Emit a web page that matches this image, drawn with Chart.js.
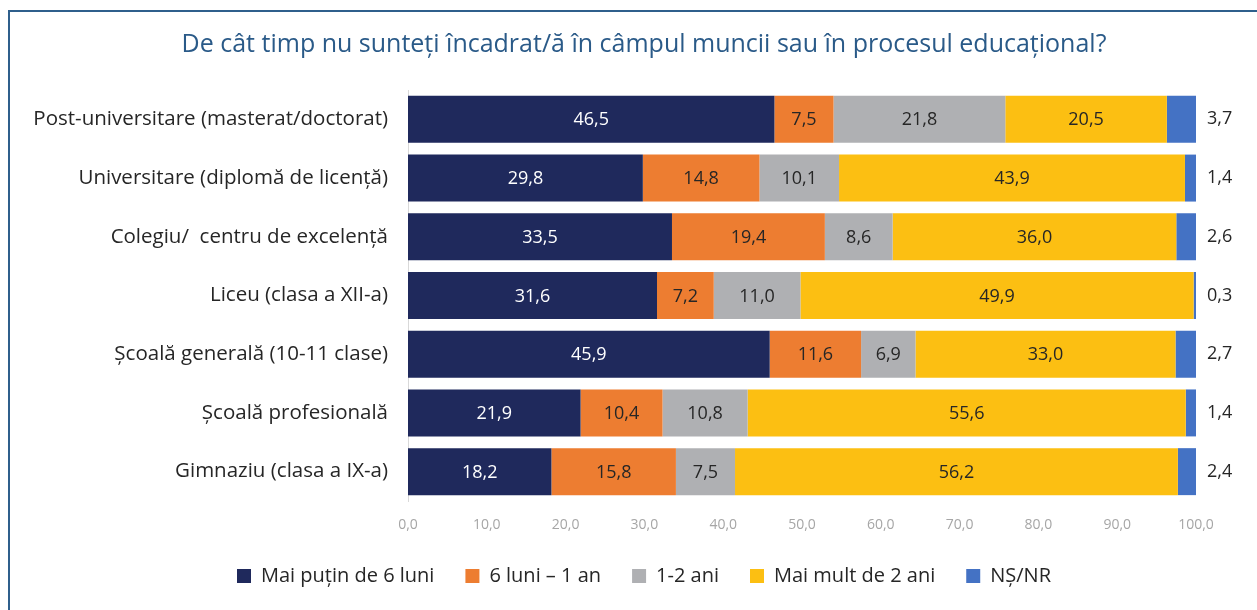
<!DOCTYPE html>
<html>
<head>
<meta charset="utf-8">
<script src="https://cdn.jsdelivr.net/npm/chart.js@4"></script>
<style>
  html, body { margin: 0; padding: 0; background: #fff; overflow: hidden; }
  #frame { position: absolute; left: 8px; top: 10px; width: 1400px; height: 800px;
           border: 2px solid #2f5f8c; box-sizing: border-box; }
  #wrap { position: absolute; left: 0; top: 0; width: 1257px; height: 610px; }
</style>
</head>
<body>
<div id="frame"></div>
<div id="wrap"><canvas id="chart"></canvas></div>
<script>
const categories = [
  'Post-universitare (masterat/doctorat)',
  'Universitare (diplomă de licență)',
  'Colegiu/  centru de excelență',
  'Liceu (clasa a XII-a)',
  'Școală generală (10-11 clase)',
  'Școală profesională',
  'Gimnaziu (clasa a IX-a)'
]
const under6Months = [46.5, 29.8, 33.5, 31.6, 45.9, 21.9, 18.2]
const sixMonthsToYear = [7.5, 14.8, 19.4, 7.2, 11.6, 10.4, 15.8]
const oneToTwoYears = [21.8, 10.1, 8.6, 11.0, 6.9, 10.8, 7.5]
const overTwoYears = [20.5, 43.9, 36.0, 49.9, 33.0, 55.6, 56.2]
const dontKnow = [3.7, 1.4, 2.6, 0.3, 2.7, 1.4, 2.4]
const xTicks = [0, 10, 20, 30, 40, 50, 60, 70, 80, 90, 100]

const fmt = v => v.toFixed(1).replace('.', ',')
const FONT = '"Open Sans", sans-serif'

// values written inside the bars (NS/NR goes on the right axis instead)
const barLabels = {
  id: 'barLabels',
  afterDatasetsDraw(chart) {
    const ctx = chart.ctx
    ctx.save()
    ctx.font = '18px ' + FONT
    ctx.textBaseline = 'middle'
    ctx.textAlign = 'center'
    chart.data.datasets.forEach((ds, i) => {
      if (i === chart.data.datasets.length - 1) return
      chart.getDatasetMeta(i).data.forEach((bar, j) => {
        ctx.fillStyle = i === 0 ? '#ffffff' : '#262626'
        ctx.fillText(fmt(ds.data[j]), (bar.x + bar.base) / 2, bar.y + 1)
      })
    })
    ctx.restore()
  }
}

new Chart(document.getElementById('chart').getContext('2d'), {
  type: 'bar',
  data: {
    labels: categories,
    datasets: [
      { label: 'Mai puțin de 6 luni', data: under6Months, backgroundColor: '#1f295c', yAxisID: 'y' },
      { label: '6 luni – 1 an', data: sixMonthsToYear, backgroundColor: '#ed7d31', yAxisID: 'y' },
      { label: '1-2 ani', data: oneToTwoYears, backgroundColor: '#afb0b3', yAxisID: 'y' },
      { label: 'Mai mult de 2 ani', data: overTwoYears, backgroundColor: '#fcbf12', yAxisID: 'y' },
      { label: 'NȘ/NR', data: dontKnow, backgroundColor: '#4472c4', yAxisID: 'y' }
    ]
  },
  options: {
    indexAxis: 'y',
    responsive: true,
    maintainAspectRatio: false,
    animation: false,
    categoryPercentage: 1,
    barPercentage: 0.8,
    layout: { padding: { left: 31, right: 0, top: 0, bottom: 14 } },
    scales: {
      x: {
        stacked: true,
        min: 0,
        max: 100,
        afterBuildTicks: s => { s.ticks = xTicks.map(v => ({ value: v })) },
        afterFit: s => { s.height = 34 },
        grid: { display: false, drawTicks: false },
        border: { display: false },
        ticks: {
          color: '#a6a6a6',
          font: { family: FONT, size: 14 },
          padding: 16,
          callback: v => fmt(v)
        }
      },
      y: {
        stacked: true,
        afterFit: s => { s.width = 377 },
        grid: { display: false, drawTicks: false },
        border: { display: true, color: '#d9d9d9', width: 1 },
        ticks: {
          color: '#262626',
          font: { family: FONT, size: 20.5 },
          padding: 20
        }
      },
      y2: {
        type: 'category',
        position: 'right',
        labels: dontKnow.map(fmt),
        offset: true,
        afterFit: s => { s.width = 61 },
        grid: { display: false, drawTicks: false },
        border: { display: false },
        ticks: {
          color: '#262626',
          font: { family: FONT, size: 18 },
          padding: 11
        }
      }
    },
    plugins: {
      title: {
        display: true,
        text: 'De cât timp nu sunteți încadrat/ă în câmpul muncii sau în procesul educațional?',
        color: '#2a5a88',
        font: { family: FONT, size: 25, weight: 'normal' },
        padding: { top: 30, bottom: 30 }
      },
      legend: {
        position: 'bottom',
        labels: {
          color: '#262626',
          font: { family: FONT, size: 20 },
          boxWidth: 14,
          boxHeight: 14,
          padding: 31
        }
      },
      tooltip: { enabled: false }
    }
  },
  plugins: [barLabels]
})
</script>
</body>
</html>
